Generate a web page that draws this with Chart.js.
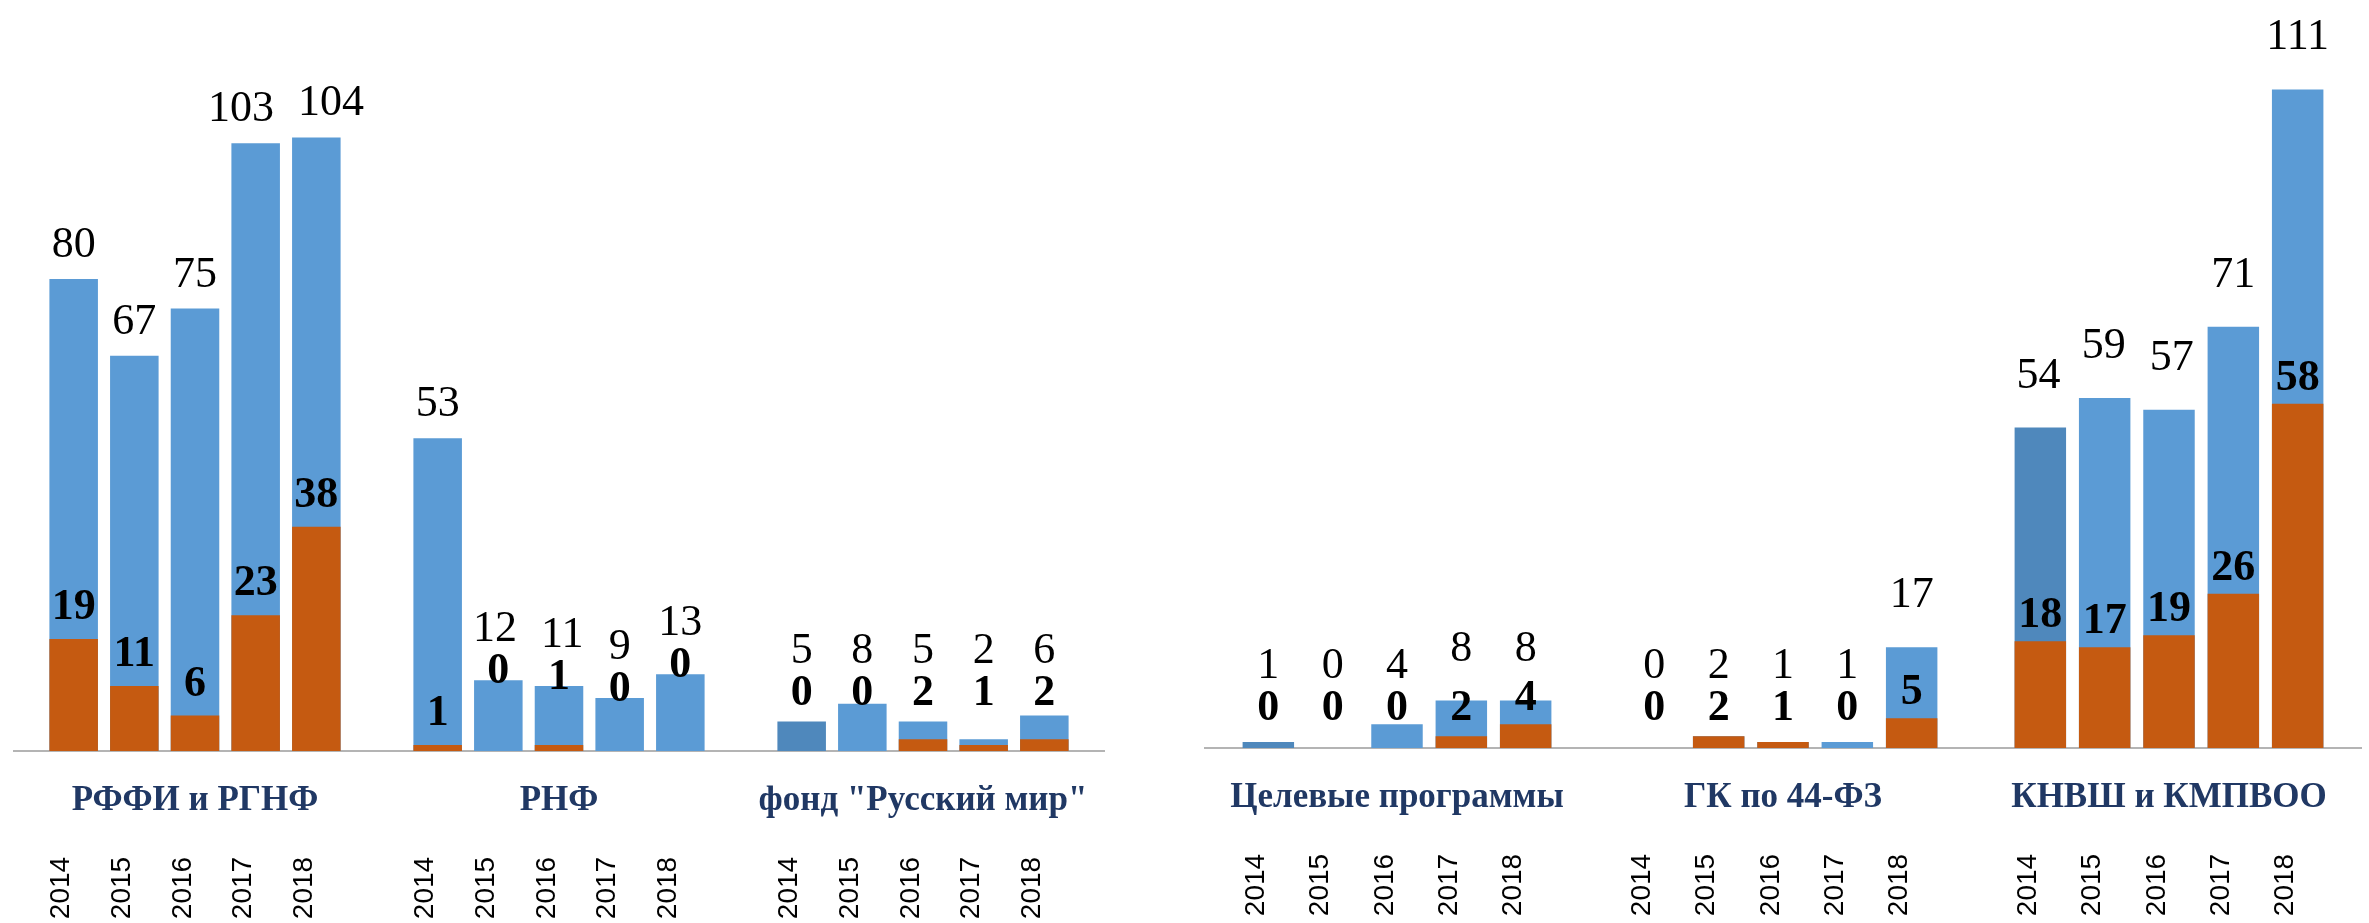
<!DOCTYPE html>
<html lang="ru">
<head>
<meta charset="utf-8">
<title>Гранты 2014–2018</title>
<script src="https://cdn.jsdelivr.net/npm/chart.js@4.4.1/dist/chart.umd.min.js"></script>
<style>
  html, body { margin: 0; padding: 0; background: #fff; }
  #page { position: relative; width: 2369px; height: 923px; overflow: hidden; }
  canvas { position: absolute; top: 0; }
  #leftChart { left: 0; }
  #rightChart { left: 1180px; }
</style>
</head>
<body>
<div id="page">
  <canvas id="leftChart" width="1130" height="923"></canvas>
  <canvas id="rightChart" width="1189" height="923"></canvas>
</div>
<script>
const years = ['2014', '2015', '2016', '2017', '2018'];

// left panel: foundations
const leftGroups = ['РФФИ и РГНФ', 'РНФ', 'фонд "Русский мир"'];
const leftTotal = [[80, 67, 75, 103, 104], [53, 12, 11, 9, 13], [5, 8, 5, 2, 6]];
const leftOwn = [[19, 11, 6, 23, 38], [1, 0, 1, 0, 0], [0, 0, 2, 1, 2]];

// right panel: programs and contracts
const rightGroups = ['Целевые программы', 'ГК по 44-ФЗ', 'КНВШ и КМПВОО'];
const rightTotal = [[1, 0, 4, 8, 8], [0, 2, 1, 1, 17], [54, 59, 57, 71, 111]];
const rightOwn = [[0, 0, 0, 2, 4], [0, 2, 1, 0, 5], [18, 17, 19, 26, 58]];

// bars that are drawn a bit darker in the original
const darkBars = ['фонд "Русский мир"|2014', 'Целевые программы|2014', 'КНВШ и КМПВОО|2014'];

const BLUE = '#5B9BD5';
const DARK_BLUE = '#4F88BC';
const ORANGE = '#C55A11';
const NAVY = '#203864';
const TOTAL_FONT = '44px "Liberation Serif"';
const OWN_FONT = 'bold 44px "Liberation Serif"';

// one empty slot at each end and between groups
function buildSlots(groups, total, own) {
    const labels = [''], totals = [null], owns = [null], groupOf = [null];
    groups.forEach((g, gi) => {
        years.forEach((y, yi) => {
            labels.push(y);
            totals.push(total[gi][yi]);
            owns.push(own[gi][yi]);
            groupOf.push(g);
        });
        labels.push(''); totals.push(null); owns.push(null); groupOf.push(null);
    });
    return { labels, totals, owns, groupOf };
}

const fundLabels = {
    id: 'fundLabels',
    beforeDatasetsDraw(chart) {
        const ctx = chart.ctx;
        const base = chart.scales.y.getPixelForValue(0);
        ctx.save();
        ctx.strokeStyle = '#B4B4B4';
        ctx.lineWidth = 2;
        ctx.beginPath();
        ctx.moveTo(chart.chartArea.left, base);
        ctx.lineTo(chart.chartArea.right, base);
        ctx.stroke();
        ctx.restore();
    },
    afterDatasetsDraw(chart, args, opts) {
        const ctx = chart.ctx;
        const xs = chart.scales.x;
        const base = chart.scales.y.getPixelForValue(0);
        const own = chart.getDatasetMeta(0);
        const tot = chart.getDatasetMeta(1);
        const owns = chart.data.datasets[0].data;
        const totals = chart.data.datasets[1].data;

        ctx.save();
        ctx.textAlign = 'center';
        ctx.textBaseline = 'alphabetic';
        ctx.fillStyle = '#000';

        // work out label places first
        const marks = [];
        for (let i = 0; i < totals.length; i++) {
            if (totals[i] === null) { marks.push(null); continue; }
            const cx = tot.data[i].x;
            const totTop = tot.data[i].y;
            let ownBase = own.data[i].y - opts.ownGap;
            if (totTop > ownBase - 90) {
                // short bar: lift the bold label up off the axis
                ownBase = Math.min(ownBase, base - opts.floor);
                if (opts.hug) ownBase = Math.min(ownBase, totTop + 3);
            }
            const totBase = Math.min(totTop - opts.totalGap, ownBase - 42);
            ctx.font = TOTAL_FONT;
            const w = ctx.measureText(String(totals[i])).width;
            marks.push({ i, cx, tx: cx, w, ownBase, totBase });
        }
        // push apart neighbouring total labels that would touch
        for (let k = 0; k < marks.length - 1; k++) {
            const a = marks[k], b = marks[k + 1];
            if (!a || !b || Math.abs(a.totBase - b.totBase) > 30) continue;
            const need = a.w / 2 + b.w / 2 + 24 - (b.tx - a.tx);
            if (need > 0) { a.tx -= need / 2; b.tx += need / 2; }
        }

        marks.forEach(m => {
            if (!m) return;
            ctx.font = OWN_FONT;
            ctx.fillText(String(owns[m.i]), m.cx, m.ownBase);
            ctx.font = TOTAL_FONT;
            ctx.fillText(String(totals[m.i]), m.tx, m.totBase);

            // year, rotated
            ctx.save();
            ctx.translate(m.cx - 12, base + 137);
            ctx.rotate(-Math.PI / 2);
            ctx.font = '28px "Liberation Sans"';
            ctx.textBaseline = 'middle';
            ctx.fillText(chart.data.labels[m.i], 0, 0);
            ctx.restore();
        });

        // group names under the axis
        ctx.fillStyle = NAVY;
        ctx.font = 'bold 35px "Liberation Serif"';
        opts.groups.forEach((g, gi) => {
            const gx = xs.getPixelForValue(gi * 6 + 3);
            ctx.fillText(g, gx, base + 59);
        });
        ctx.restore();
    }
};

function makeChart(canvasId, groups, total, own, pad, labelOpts) {
    const s = buildSlots(groups, total, own);
    return new Chart(document.getElementById(canvasId), {
        type: 'bar',
        data: {
            labels: s.labels,
            datasets: [{
                label: 'в т.ч.',
                data: s.owns,
                backgroundColor: ORANGE,
                grouped: false,
                order: 0
            }, {
                label: 'всего',
                data: s.totals,
                backgroundColor: (c) => darkBars.includes(s.groupOf[c.dataIndex] + '|' + s.labels[c.dataIndex]) ? DARK_BLUE : BLUE,
                grouped: false,
                order: 1
            }]
        },
        options: {
            responsive: false,
            animation: false,
            events: [],
            layout: { padding: pad },
            datasets: {
                bar: { categoryPercentage: 1, barPercentage: 0.8, borderWidth: 0 }
            },
            scales: {
                x: { type: 'category', display: false, offset: false },
                y: { display: false, min: 0, max: 120 }
            },
            plugins: {
                legend: { display: false },
                tooltip: { enabled: false },
                fundLabels: Object.assign({ groups }, labelOpts)
            }
        },
        plugins: [fundLabels]
    });
}

makeChart('leftChart', leftGroups, leftTotal, leftOwn,
    { left: 13, right: 25, top: 43, bottom: 172 },
    { ownGap: 20, floor: 46, totalGap: 22, hug: true });

makeChart('rightChart', rightGroups, rightTotal, rightOwn,
    { left: 24, right: 7, top: 36, bottom: 175 },
    { ownGap: 14, floor: 28, totalGap: 40, hug: false });
</script>
</body>
</html>
